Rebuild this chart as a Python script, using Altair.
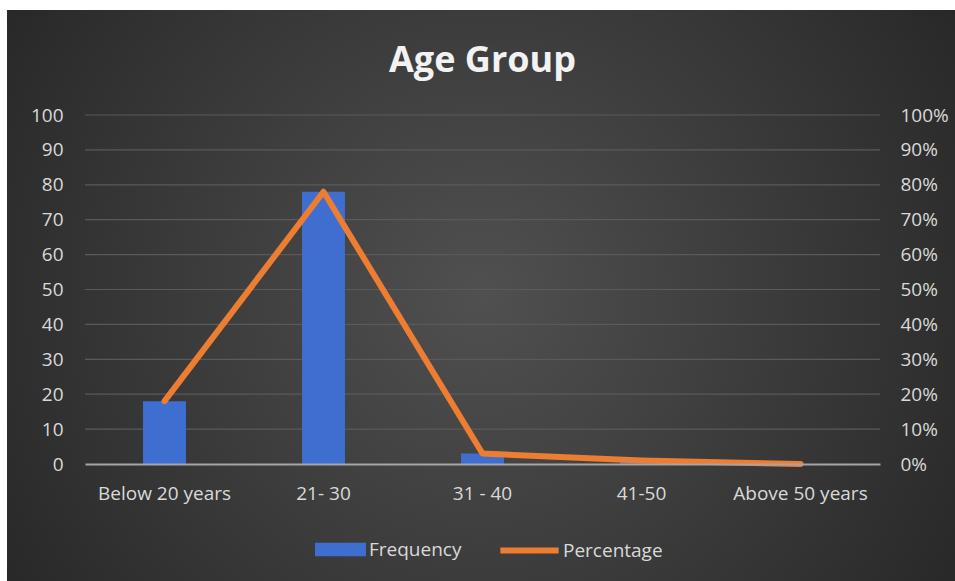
import altair as alt
import pandas as pd

# Age bands with respondent counts and their share of the total
age_groups = ["Below 20 years", "21- 30", "31 - 40", "41-50", "Above 50 years"]
frequency = [18, 78, 3, 1, 0]
percentage = [0.18, 0.78, 0.03, 0.01, 0.00]
y_ticks = list(range(0, 101, 10))

df = pd.DataFrame({
    "group": age_groups,
    "frequency": frequency,
    "percentage": percentage,
    "fseries": ["Frequency"] * len(age_groups),
    "pseries": ["Percentage"] * len(age_groups),
})
grid_df = pd.DataFrame({"tick": y_ticks[1:]})

W, H = 795, 349
PAD = {"left": 85, "top": 115, "right": 75, "bottom": 117}
FONT = "Open Sans"
FS = 19
LABEL = "#d9d9d9"
BLUE = "#3E6FD0"
ORANGE = "#ED7D31"

left_scale = alt.Scale(domain=[0, 100], nice=False)
left_axis = alt.Axis(
    title=None, values=y_ticks, labelFontSize=FS,
    labelColor=LABEL, labelFont=FONT, labelPadding=22, ticks=False,
    domain=False, grid=False, zindex=1,
)

x_enc = alt.X(
    "group:N",
    sort=age_groups,
    scale=alt.Scale(paddingInner=0, paddingOuter=0),
    axis=alt.Axis(
        title=None, labelAngle=0, labelFontSize=FS, labelColor=LABEL,
        labelFont=FONT, labelPadding=20, ticks=False, domain=True,
        domainColor="#a6a6a6", domainWidth=2, grid=False, zindex=1,
    ),
)

# Dark radial backdrop behind the whole figure
backdrop = alt.Chart(df).mark_rect(
    fill={
        "gradient": "radial",
        "x1": 0.5, "y1": 0.5, "r1": 0.0,
        "x2": 0.5, "y2": 0.5, "r2": 0.62,
        "stops": [
            {"offset": 0.0, "color": "#505050"},
            {"offset": 1.0, "color": "#262626"},
        ],
    },
).encode(
    x=alt.value(-PAD["left"] + 7),
    x2=alt.value(W + PAD["right"]),
    y=alt.value(-PAD["top"] + 10),
    y2=alt.value(H + PAD["bottom"]),
)

# Horizontal gridlines at each left-axis tick
grid = alt.Chart(grid_df).mark_rule(color="#5a5a5a", strokeWidth=1.2).encode(
    y=alt.Y("tick:Q", scale=left_scale, axis=left_axis),
    x=alt.value(0),
    x2=alt.value(W),
)

bars = alt.Chart(df).mark_bar(
    width=alt.RelativeBandSize(0.27),
).encode(
    x=x_enc,
    y=alt.Y("frequency:Q", scale=left_scale, axis=left_axis),
    fill=alt.Fill(
        "fseries:N",
        scale=alt.Scale(domain=["Frequency"], range=[BLUE]),
        legend=alt.Legend(
            title=None, orient="none", legendX=230, legendY=409,
            symbolType="M-1,-0.26H1V0.26H-1Z", symbolSize=2600,
            symbolStrokeWidth=0, labelFontSize=FS, labelColor=LABEL,
            labelFont=FONT, labelOffset=3,
        ),
    ),
)

line = alt.Chart(df).mark_line(
    strokeWidth=6, strokeCap="round", strokeJoin="round",
).encode(
    x=x_enc,
    y=alt.Y(
        "percentage:Q",
        scale=alt.Scale(domain=[0, 1], nice=False),
        axis=alt.Axis(
            title=None, orient="right", format=".0%",
            values=[t / 100 for t in y_ticks], labelFontSize=FS,
            labelColor=LABEL, labelFont=FONT, labelPadding=20, ticks=False,
            domain=False, grid=False, zindex=1,
        ),
    ),
    stroke=alt.Stroke(
        "pseries:N",
        scale=alt.Scale(domain=["Percentage"], range=[ORANGE]),
        legend=alt.Legend(
            title=None, orient="none", legendX=412, legendY=403,
            symbolType="stroke", symbolSize=3400, symbolStrokeWidth=6,
            labelFontSize=FS, labelColor=LABEL, labelFont=FONT, labelOffset=1,
        ),
    ),
)

left = alt.layer(backdrop, grid, bars)

chart = alt.layer(left, line).resolve_scale(
    y="independent", fill="independent", stroke="independent",
).properties(
    width=W, height=H,
    padding=PAD,
    autosize=alt.AutoSizeParams(type="none"),
    background="white",
    title=alt.TitleParams(
        "Age Group", fontSize=36, fontWeight="bold", color="#f2f2f2",
        font=FONT, anchor="middle", offset=0, dy=70, frame="group",
    ),
).configure_view(stroke=None)

chart.save("out.html", embed_options={"renderer": "svg", "actions": False})
